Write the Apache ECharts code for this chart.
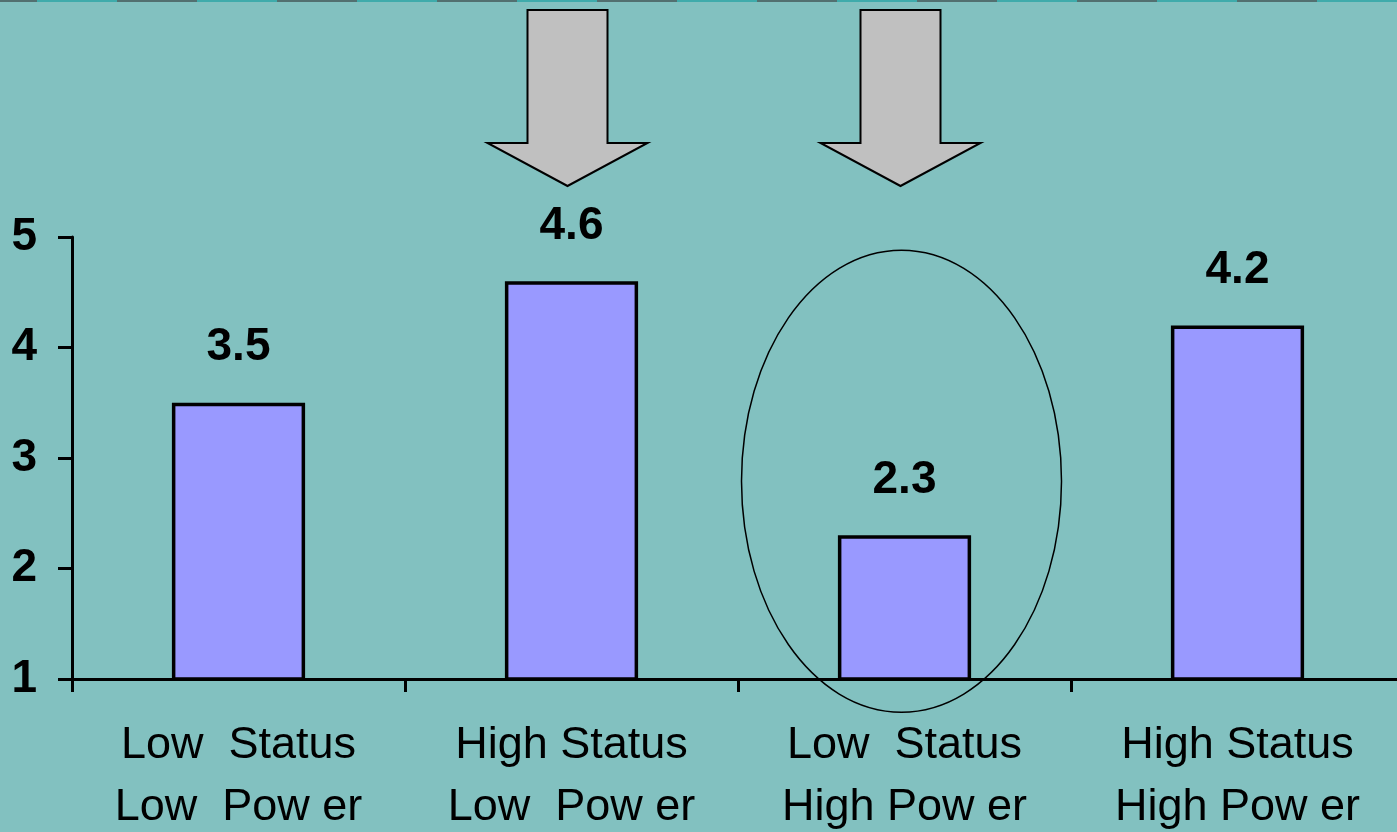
<!DOCTYPE html>
<html>
<head>
<meta charset="utf-8">
<script src="https://cdn.jsdelivr.net/npm/echarts@6/dist/echarts.min.js"></script>
<style>
  html, body { margin: 0; padding: 0; background: #82c1c0; }
  #chart { width: 1397px; height: 832px; }
</style>
</head>
<body>
<div id="chart"></div>
<script>
// Group labels (two lines each) and mean scores
const categories = [
  'Low  Status\nLow  Pow er',
  'High Status\nLow  Pow er',
  'Low  Status\nHigh Pow er',
  'High Status\nHigh Pow er'
];
const scores = [3.5, 4.6, 2.3, 4.2];
const yTicks = [1, 2, 3, 4, 5];

// Groups pointed at by the down arrows, and the circled group
const arrowGroups = [1, 2];
const circledGroup = 2;

const FONT = 'Arial, "Liberation Sans", sans-serif';

const chart = echarts.init(document.getElementById('chart'));

chart.setOption({
  backgroundColor: '#82c1c0',
  animation: false,
  grid: {
    left: 72, right: -7, top: 237, bottom: 153,
    containLabel: false, outerBoundsMode: 'none'
  },
  xAxis: {
    type: 'category',
    data: categories,
    boundaryGap: true,
    axisLine: { show: true, lineStyle: { color: '#000', width: 3 } },
    axisTick: { show: true, length: 13, lineStyle: { color: '#000', width: 3 }, alignWithLabel: false },
    axisLabel: {
      interval: 0, color: '#000', fontSize: 45, lineHeight: 62,
      fontFamily: FONT, margin: 36
    },
    splitLine: { show: false }
  },
  yAxis: {
    type: 'value',
    min: yTicks[0],
    max: yTicks[yTicks.length - 1],
    interval: 1,
    axisLine: { show: true, lineStyle: { color: '#000', width: 3 } },
    axisTick: { show: true, length: 14, lineStyle: { color: '#000', width: 3 } },
    axisLabel: {
      color: '#000', fontSize: 46, fontWeight: 'bold', fontFamily: FONT, margin: 35
    },
    splitLine: { show: false }
  },
  series: [{
    type: 'bar',
    data: scores,
    barWidth: '40%',
    itemStyle: { color: '#9999ff', borderColor: '#000', borderWidth: 3.5 },
    label: {
      show: true,
      position: 'top',
      distance: 32,
      color: '#000',
      fontSize: 46,
      fontWeight: 'bold',
      fontFamily: FONT,
      formatter: p => p.value.toFixed(1)
    }
  }]
});

// Annotations: dashed rule along the top edge, two down arrows, one ellipse
function drawAnnotations() {
  const W = chart.getWidth();
  const elements = [
    { type: 'line', shape: { x1: 0, y1: 1, x2: W, y2: 1 },
      style: { stroke: '#3fabab', lineWidth: 2 }, z: 10 },
    { type: 'line', shape: { x1: 0, y1: 1, x2: W, y2: 1 },
      style: { stroke: '#527070', lineWidth: 2, lineDash: [80, 80], lineDashOffset: 43 }, z: 11 }
  ];

  arrowGroups.forEach(idx => {
    const cx = chart.convertToPixel({ gridIndex: 0 }, [idx, 1])[0] - 4;
    const top = 10, neck = 143, tip = 186, shaftHalf = 40, headHalf = 80;
    elements.push({
      type: 'polygon',
      shape: { points: [
        [cx - shaftHalf, top], [cx + shaftHalf, top], [cx + shaftHalf, neck],
        [cx + headHalf, neck], [cx, tip], [cx - headHalf, neck], [cx - shaftHalf, neck]
      ] },
      style: { fill: '#c0c0c0', stroke: '#000', lineWidth: 2, lineJoin: 'miter' },
      z: 20
    });
  });

  const c = chart.convertToPixel({ gridIndex: 0 }, [circledGroup, 2.79]);
  elements.push({
    type: 'ellipse',
    shape: { cx: c[0] - 3, cy: c[1], rx: 160, ry: 231 },
    style: { fill: 'none', stroke: '#000', lineWidth: 1.5 },
    z: 20
  });

  chart.setOption({ graphic: { elements } });
}
drawAnnotations();
</script>
</body>
</html>
